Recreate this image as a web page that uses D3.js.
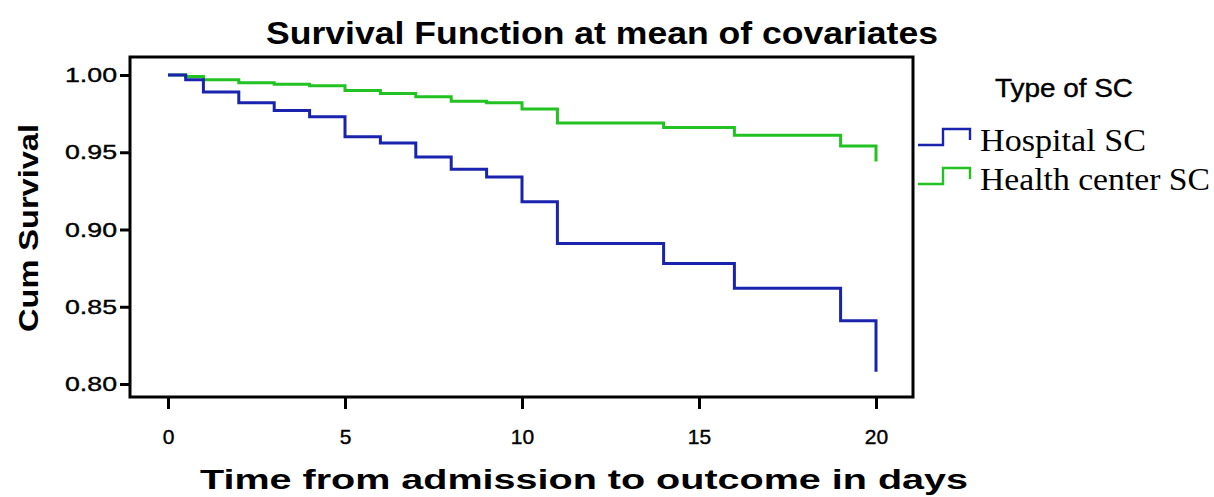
<!DOCTYPE html>
<html lang="en">
<head>
    <meta charset="utf-8">
    <title>Survival Function at mean of covariates</title>
    <script src="https://d3js.org/d3.v7.min.js"></script>
    <style>
        body { margin: 0; background: #fff; }
        svg { display: block; }
    </style>
</head>
<body>
<svg width="1214" height="497"></svg>
<script>
    // days at which the curves step down
    const days = [0, 0.5, 1, 2, 3, 4, 5, 6, 7, 8, 9, 10, 11, 14, 16, 19, 20];
    // cumulative survival, hospital SC (blue)
    const hospitalSurv = [1.000, 0.997, 0.989, 0.982, 0.977, 0.973, 0.960, 0.956, 0.947, 0.939, 0.934, 0.918, 0.891, 0.878, 0.862, 0.841, 0.808];
    // cumulative survival, health center SC (green)
    const healthSurv = [1.000, 0.999, 0.997, 0.995, 0.994, 0.993, 0.990, 0.988, 0.986, 0.983, 0.982, 0.978, 0.969, 0.966, 0.961, 0.954, 0.944];

    const seriesNames = ["Hospital SC", "Health center SC"];
    const xTicks = [0, 5, 10, 15, 20];
    const yTicks = [0.80, 0.85, 0.90, 0.95, 1.00];

    const svg = d3.select("svg");
    const colors = { hospital: "#1a23ad", health: "#22c222", ink: "#000" };

    // frame of the plot area
    const frame = { left: 130, right: 913, top: 57, bottom: 397 };

    const x = d3.scaleLinear().domain([0, 20]).range([168, 876]);
    const y = d3.scaleLinear().domain([0.80, 1.00]).range([384, 75]);

    // title
    svg.append("text")
        .attr("x", 602).attr("y", 44)
        .attr("text-anchor", "middle")
        .attr("font-family", "Liberation Sans, Arial, sans-serif")
        .attr("font-weight", "bold")
        .attr("font-size", 31)
        .attr("textLength", 672)
        .attr("lengthAdjust", "spacingAndGlyphs")
        .text("Survival Function at mean of covariates");

    // y axis
    const yAxis = svg.append("g")
        .attr("transform", `translate(${frame.left},0)`)
        .call(d3.axisLeft(y).tickValues(yTicks).tickFormat(d3.format(".2f"))
              .tickSize(10).tickPadding(3));
    yAxis.select(".domain").remove();
    yAxis.selectAll(".tick line").attr("stroke", colors.ink).attr("stroke-width", 3);
    yAxis.selectAll(".tick text")
        .attr("font-family", "Liberation Sans, Arial, sans-serif")
        .attr("font-size", 21)
        .attr("fill", colors.ink)
        .attr("stroke", colors.ink).attr("stroke-width", 0.4)
        .attr("textLength", 52)
        .attr("lengthAdjust", "spacingAndGlyphs");

    // x axis
    const xAxis = svg.append("g")
        .attr("transform", `translate(0,${frame.bottom})`)
        .call(d3.axisBottom(x).tickValues(xTicks).tickSize(12).tickPadding(20));
    xAxis.select(".domain").remove();
    xAxis.selectAll(".tick line").attr("stroke", colors.ink).attr("stroke-width", 3);
    xAxis.selectAll(".tick text")
        .attr("font-family", "Liberation Sans, Arial, sans-serif")
        .attr("font-size", 21)
        .attr("fill", colors.ink)
        .attr("stroke", colors.ink).attr("stroke-width", 0.4);

    // frame
    svg.append("rect")
        .attr("x", frame.left).attr("y", frame.top)
        .attr("width", frame.right - frame.left)
        .attr("height", frame.bottom - frame.top)
        .attr("fill", "none")
        .attr("stroke", colors.ink)
        .attr("stroke-width", 3);

    // axis titles
    svg.append("text")
        .attr("x", 584).attr("y", 489)
        .attr("text-anchor", "middle")
        .attr("font-family", "Liberation Sans, Arial, sans-serif")
        .attr("font-weight", "bold")
        .attr("font-size", 28)
        .attr("textLength", 768)
        .attr("lengthAdjust", "spacingAndGlyphs")
        .text("Time from admission to outcome in days");

    svg.append("text")
        .attr("transform", "translate(38,228) rotate(-90)")
        .attr("text-anchor", "middle")
        .attr("font-family", "Liberation Sans, Arial, sans-serif")
        .attr("font-weight", "bold")
        .attr("font-size", 28)
        .attr("textLength", 208)
        .attr("lengthAdjust", "spacingAndGlyphs")
        .text("Cum Survival");

    // survival step curves
    const line = d3.line()
        .x(d => x(d[0]))
        .y(d => y(d[1]))
        .curve(d3.curveStepAfter);

    const series = [
        { values: d3.zip(days, healthSurv), color: colors.health },
        { values: d3.zip(days, hospitalSurv), color: colors.hospital }
    ];

    svg.append("g").selectAll("path")
        .data(series)
        .join("path")
        .attr("d", d => line(d.values))
        .attr("fill", "none")
        .attr("stroke", d => d.color)
        .attr("stroke-width", 3);

    // legend
    svg.append("text")
        .attr("x", 995).attr("y", 97)
        .attr("font-family", "Liberation Sans, Arial, sans-serif")
        .attr("font-size", 25)
        .attr("stroke", colors.ink).attr("stroke-width", 0.4)
        .attr("textLength", 138)
        .attr("lengthAdjust", "spacingAndGlyphs")
        .text("Type of SC");

    const legend = [
        { name: seriesNames[0], color: colors.hospital, y: 145, width: 166 },
        { name: seriesNames[1], color: colors.health, y: 184, width: 230 }
    ];
    const item = svg.append("g").selectAll("g")
        .data(legend)
        .join("g")
        .attr("transform", d => `translate(918,${d.y})`);
    item.append("path")
        .attr("d", "M0,0H25V-16H52V-5")
        .attr("fill", "none")
        .attr("stroke", d => d.color)
        .attr("stroke-width", 2.4);
    item.append("text")
        .attr("x", 62).attr("y", 6)
        .attr("font-family", "Liberation Serif, Times New Roman, serif")
        .attr("font-size", 31)
        .attr("textLength", d => d.width)
        .attr("lengthAdjust", "spacingAndGlyphs")
        .text(d => d.name);
</script>
</body>
</html>
